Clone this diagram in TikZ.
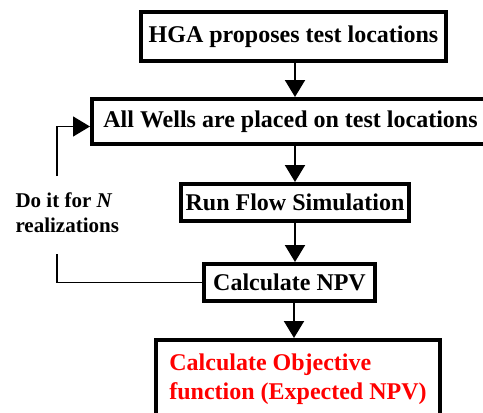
\documentclass[tikz,border=0pt]{standalone}
\usepackage{fontspec}
\setmainfont{Liberation Serif}
\usetikzlibrary{arrows.meta, positioning}

\begin{document}
\begin{tikzpicture}[
  x=1pt, y=-1pt,
  every node/.style={font=\fontsize{24}{29}\selectfont\bfseries},
  stage/.style={rectangle, draw=black, line width=4pt, inner sep=0pt, align=center},
  flow/.style={line width=2pt, -{Triangle[length=17pt 0, width=20pt 0]}},
  loop/.style={line width=1.5pt},
]
\useasboundingbox (0,0) rectangle (483,413);

\node[stage, minimum width=305pt, minimum height=49pt] (hga) at (293.5,36.5) {HGA proposes test locations};
\node[stage, minimum width=397pt, minimum height=45pt] (wells) at (290.5,121.5) {All Wells are placed on test locations};
\node[stage, minimum width=228pt, minimum height=37pt] (sim) at (295,202.5) {Run Flow Simulation};
\node[stage, minimum width=171pt, minimum height=37pt] (npv) at (289.5,282.5) {Calculate NPV};
\node[stage, text=red, align=left, minimum width=284pt, minimum height=78pt] (obj) at (298,379) {Calculate Objective\\function (Expected NPV)};

\node[anchor=west, align=left, font=\fontsize{21}{25}\selectfont\bfseries] (note) at (12,213) {Do it for \textit{N}\\realizations};

\draw[flow] (hga.south -| sim) -- (wells.north -| sim);
\draw[flow] (wells.south -| sim) -- (sim.north);
\draw[flow] (sim.south) -- (sim.south |- npv.north);
\draw[flow] ([xshift=4.5pt]npv.south) -- ([xshift=4.5pt]npv.south |- obj.north);

% feedback loop
\coordinate (loopbot) at (57,254);
\coordinate (looptop) at (57,176);
\draw[loop] (npv.west) -- (npv.west -| loopbot) -- (loopbot);
\draw[loop, -{Triangle[length=17pt 0, width=20pt 0]}] (looptop) |- ([yshift=-5pt]wells.west);

\end{tikzpicture}
\end{document}
